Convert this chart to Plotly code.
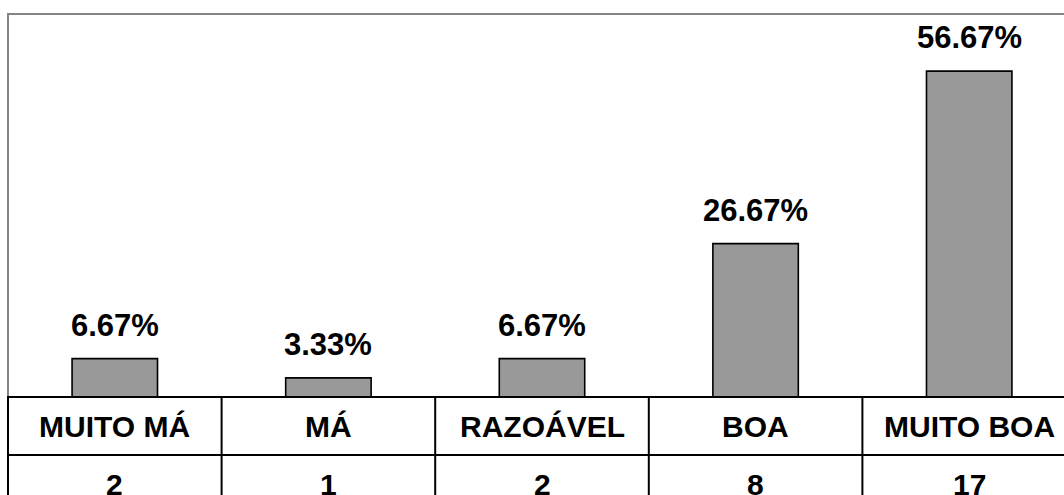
import plotly.graph_objects as go

# Survey results: rating categories, respondent counts and share of total (%)
categories = ["MUITO MÁ", "MÁ", "RAZOÁVEL", "BOA", "MUITO BOA"]
counts = [2, 1, 2, 8, 17]
percentages = [6.67, 3.33, 6.67, 26.67, 56.67]
percent_labels = ["6.67%", "3.33%", "6.67%", "26.67%", "56.67%"]

W, H = 1064, 495
M_LEFT, M_TOP, M_BOTTOM = 7, 14, 98
COL_PX = 213.6                      # width of one category column in pixels
plot_h = H - M_TOP - M_BOTTOM
x_start = -0.5 - 1 / COL_PX
x_end = x_start + (W - M_LEFT) / COL_PX

FONT = "Liberation Sans, Arial, sans-serif"

fig = go.Figure(
    go.Bar(
        x=categories,
        y=percentages,
        width=0.40,
        marker=dict(color="#999999", line=dict(color="#000000", width=1.6)),
        hoverinfo="skip",
    )
)

# Value labels above each bar
annotations = []
for cat, val, lab in zip(categories, percentages, percent_labels):
    annotations.append(dict(
        x=cat, y=val, xref="x", yref="y", text=lab, showarrow=False,
        yanchor="bottom", yshift=14,
        font=dict(family=FONT, size=31, color="#000000", weight="bold"),
    ))

# Data table under the chart: category names and counts
row_h = 58 / plot_h
row1_mid = -row_h / 2
row2_mid = -row_h * 1.5
for cat, n in zip(categories, counts):
    annotations.append(dict(
        x=cat, y=row1_mid, xref="x", yref="paper", text=cat, showarrow=False,
        yanchor="middle", font=dict(family=FONT, size=30, color="#000000", weight="bold"),
    ))
    annotations.append(dict(
        x=cat, y=row2_mid, xref="x", yref="paper", text=str(n), showarrow=False,
        yanchor="middle", font=dict(family=FONT, size=30, color="#000000", weight="bold"),
    ))

shapes = []
# Gray frame of the plot area (top and left edges)
shapes.append(dict(type="line", xref="paper", yref="paper", x0=0, x1=1, y0=1, y1=1,
                   line=dict(color="#848484", width=2)))
shapes.append(dict(type="line", xref="paper", yref="paper", x0=1 / (W - M_LEFT), x1=1 / (W - M_LEFT),
                   y0=0, y1=1, line=dict(color="#848484", width=2)))
# Table grid
for yy in (0, -row_h):
    shapes.append(dict(type="line", xref="paper", yref="paper", x0=0, x1=1, y0=yy, y1=yy,
                       line=dict(color="#000000", width=2)))
for i in range(len(categories) + 1):
    shapes.append(dict(type="line", xref="x", yref="paper", x0=i - 0.5, x1=i - 0.5,
                       y0=0, y1=-row_h * 2.2, line=dict(color="#000000", width=2)))

fig.update_layout(
    width=W, height=H,
    margin=dict(l=M_LEFT, r=0, t=M_TOP, b=M_BOTTOM, pad=0),
    paper_bgcolor="#ffffff", plot_bgcolor="#ffffff",
    showlegend=False,
    xaxis=dict(range=[x_start, x_end], showticklabels=False, showgrid=False,
               zeroline=False, showline=False, ticks=""),
    yaxis=dict(range=[0, 66.6], showticklabels=False, showgrid=False,
               zeroline=False, showline=False, ticks=""),
    annotations=annotations,
    shapes=shapes,
)

fig.write_html("out.html")
